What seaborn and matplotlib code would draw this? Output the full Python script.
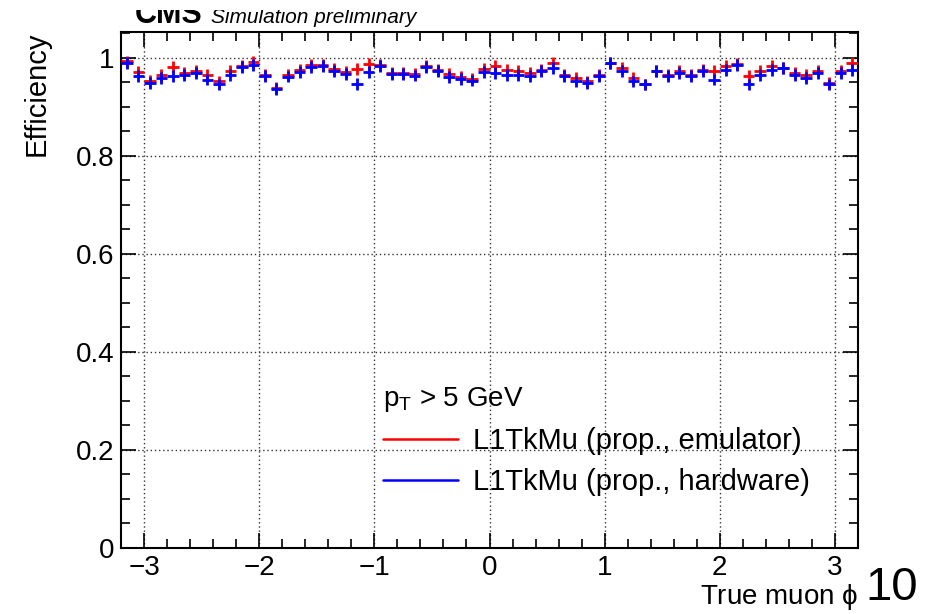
import numpy as np
import pandas as pd
import matplotlib.pyplot as plt
import seaborn as sns
from matplotlib.lines import Line2D
from matplotlib.patches import Rectangle
from matplotlib.ticker import MultipleLocator

# efficiency per phi bin, 64 bins from -3.2 to 3.2
eff_emulator = [
    0.993, 0.971, 0.954, 0.966, 0.981, 0.969, 0.973, 0.965, 0.952, 0.973, 0.983, 0.992, 0.965, 0.939, 0.966, 0.976,
    0.986, 0.986, 0.977, 0.972, 0.978, 0.988, 0.985, 0.970, 0.969, 0.968, 0.983, 0.976, 0.968, 0.962, 0.958, 0.978,
    0.983, 0.976, 0.973, 0.969, 0.976, 0.990, 0.966, 0.959, 0.952, 0.966, 0.990, 0.980, 0.959, 0.946, 0.973, 0.966,
    0.973, 0.966, 0.976, 0.973, 0.983, 0.988, 0.963, 0.973, 0.983, 0.980, 0.969, 0.966, 0.973, 0.949, 0.973, 0.990,
]
eff_hardware = [
    0.990, 0.963, 0.949, 0.959, 0.963, 0.966, 0.969, 0.956, 0.946, 0.966, 0.981, 0.986, 0.963, 0.936, 0.962, 0.972,
    0.982, 0.984, 0.974, 0.967, 0.947, 0.971, 0.984, 0.967, 0.967, 0.964, 0.981, 0.974, 0.961, 0.957, 0.954, 0.971,
    0.969, 0.966, 0.966, 0.963, 0.973, 0.980, 0.963, 0.952, 0.949, 0.963, 0.990, 0.973, 0.952, 0.946, 0.973, 0.963,
    0.969, 0.963, 0.973, 0.956, 0.976, 0.986, 0.946, 0.966, 0.976, 0.980, 0.966, 0.959, 0.969, 0.946, 0.969, 0.976,
]
eff_err = 0.012
series_labels = ["L1TkMu (prop., emulator)", "L1TkMu (prop., hardware)"]
series_colors = ["#ff0000", "#0000ff"]
y_ticks = [0, 0.2, 0.4, 0.6, 0.8, 1.0]
y_tick_labels = ["0", "0.2", "0.4", "0.6", "0.8", "1"]

edges = np.linspace(-3.2, 3.2, len(eff_hardware) + 1)
centers = 0.5 * (edges[1:] + edges[:-1])
half_width = 0.5 * (edges[1] - edges[0])

data = pd.concat([
    pd.DataFrame({"phi": centers, "eff": eff_emulator, "source": series_labels[0]}),
    pd.DataFrame({"phi": centers, "eff": eff_hardware, "source": series_labels[1]}),
])

sns.set_theme(style="ticks")
plt.rcParams['font.family'] = ['Liberation Sans', 'DejaVu Sans']
plt.rcParams['mathtext.default'] = 'regular'
for k in ['text.color', 'axes.labelcolor', 'xtick.color', 'ytick.color']:
    plt.rcParams[k] = 'black'

fig = plt.figure(figsize=(9.39, 6.14), dpi=100)
ax = fig.add_axes([0.1289, 0.1075, 0.7848, 0.8404])

for label, color in zip(series_labels, series_colors):
    sub = data[data["source"] == label]
    ax.errorbar(sub["phi"], sub["eff"], xerr=half_width, yerr=eff_err,
                fmt='none', ecolor=color, elinewidth=2, capsize=0, zorder=3)

ax.set_xlim(-3.2, 3.2)
ax.set_ylim(0, 1.053)
ax.set_yticks(y_ticks)
ax.set_yticklabels(y_tick_labels)
ax.xaxis.set_major_locator(MultipleLocator(1))
ax.xaxis.set_minor_locator(MultipleLocator(0.2))
ax.yaxis.set_minor_locator(MultipleLocator(0.05))
ax.tick_params(which='both', direction='in', top=True, right=True, width=1.2, color='black')
ax.tick_params(which='major', length=11, labelsize=20, pad=5)
ax.tick_params(which='minor', length=6.5)
ax.grid(True, which='major', linestyle=(0, (1, 2)), color='#333333', linewidth=1)
for s in ax.spines.values():
    s.set_linewidth(1.5)
    s.set_color('black')

ax.set_ylabel("Efficiency", fontsize=21, loc='top')
ax.yaxis.set_label_coords(-0.095, 1.0)
ax.set_xlabel(r"True muon $\phi$", fontsize=20, loc='right', labelpad=1)

handles = [Line2D([], [], color=c, lw=1.8) for c in series_colors]
leg = ax.legend(handles, series_labels, title=r"$p_{T}$ > 5 GeV", title_fontsize=20,
                fontsize=21, frameon=False, alignment='left', loc='upper left',
                bbox_to_anchor=(368 / 939, 1 - 370 / 614), bbox_transform=fig.transFigure,
                borderpad=0, handlelength=2.6, handletextpad=0.5, labelspacing=0.45)

fig.text(135 / 939, 1 - 23 / 614, "CMS", fontsize=22, fontweight='bold', va='baseline')
fig.text(211 / 939, 1 - 23 / 614, "Simulation preliminary", fontsize=15, style='italic', va='baseline')
# top strip of the canvas is cut off in the original
fig.patches.append(Rectangle((0, 1 - 10 / 614), 1, 10 / 614, transform=fig.transFigure,
                             facecolor='white', edgecolor='none', zorder=10))
fig.text(918 / 939, 1 - 610 / 614, "10", fontsize=34, family=['Liberation Sans Narrow', 'Liberation Sans'],
         ha='right', va='bottom')

fig.savefig("out.png", dpi=100)
